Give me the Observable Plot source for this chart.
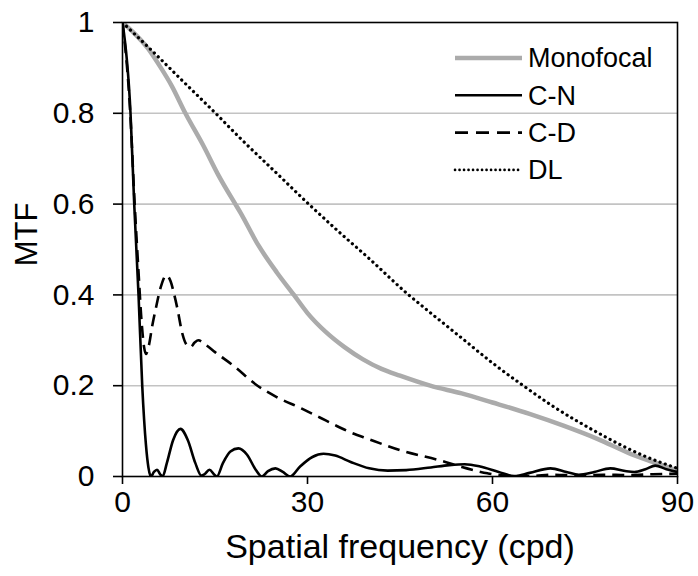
<!DOCTYPE html>
<html>
<head>
<meta charset="utf-8">
<script src="https://cdn.jsdelivr.net/npm/d3@7"></script>
<script src="https://cdn.jsdelivr.net/npm/@observablehq/plot@0.6"></script>
<style>
  body { margin: 0; background: #fff; }
  #chart { width: 698px; height: 576px; }
</style>
</head>
<body>
<div id="chart"></div>
<script>
// ---- Data ----
const monoX = [0, 2, 4, 6, 8, 10.2, 13.1, 15.5, 18.3, 19.1, 22, 25, 27.8, 30, 33, 36, 39, 42, 45, 49.9, 55, 60, 66, 71.5, 77, 82.4, 86, 90];
const monoY = [1, 0.975, 0.945, 0.905, 0.86, 0.8, 0.729, 0.665, 0.6, 0.582, 0.51, 0.45, 0.4, 0.36, 0.318, 0.285, 0.258, 0.237, 0.222, 0.2, 0.183, 0.163, 0.138, 0.112, 0.083, 0.05, 0.032, 0.013];

const cnX = [0, 1.3, 1.9, 2.6, 3.2, 3.8, 4.2, 4.6, 5.1, 5.6, 6.1, 6.5, 7.2, 8.2, 9.4, 10.6, 11.8, 12.8, 13.3, 14.1, 14.9, 15.3, 16.3, 17.5, 18.8, 20.2, 21.6, 22.6, 23.6, 24.8, 26.0, 27.2, 28.8, 30.8, 32.6, 34.5, 37, 40, 43, 46, 50, 53, 55.5, 58, 61, 63.5, 66, 69.4, 72, 74, 76.5, 79.1, 81.5, 83, 84.8, 86.4, 88.2, 90];
const cnY = [1, 0.8, 0.6, 0.4, 0.2, 0.07, 0.02, 0.0, 0.01, 0.015, 0.005, 0.0, 0.03, 0.08, 0.105, 0.08, 0.03, 0.002, 0.005, 0.015, 0.004, 0.0, 0.03, 0.055, 0.062, 0.048, 0.015, 0.0, 0.012, 0.018, 0.01, 0.0, 0.022, 0.043, 0.05, 0.046, 0.032, 0.018, 0.013, 0.014, 0.02, 0.025, 0.027, 0.022, 0.01, 0.001, 0.008, 0.018, 0.01, 0.004, 0.01, 0.018, 0.012, 0.01, 0.016, 0.024, 0.016, 0.01];

const cdX = [0, 1.3, 1.9, 2.6, 3.1, 3.5, 3.8, 4.3, 4.8, 5.4, 6.2, 7.1, 7.8, 8.4, 8.9, 9.7, 10.4, 11, 11.7, 12.3, 13.5, 15, 18, 21.9, 25, 29, 32, 34.2, 36.5, 40, 45, 51.6, 55, 59.2, 62, 66, 70, 74, 78, 82, 86, 90];
const cdY = [1, 0.79, 0.62, 0.45, 0.34, 0.285, 0.27, 0.29, 0.33, 0.37, 0.417, 0.443, 0.43, 0.40, 0.37, 0.315, 0.29, 0.285, 0.295, 0.30, 0.29, 0.274, 0.244, 0.2, 0.175, 0.15, 0.13, 0.115, 0.1, 0.082, 0.058, 0.035, 0.021, 0.007, 0.002, 0.001, 0.004, 0.002, 0.004, 0.003, 0.005, 0.006];

const dlX = [0, 5, 10, 15.1, 19.1, 25, 30.2, 35, 40, 46.4, 49.9, 55, 60, 65, 70, 77, 80, 85, 90];
const dlY = [1, 0.935, 0.868, 0.8, 0.745, 0.668, 0.6, 0.54, 0.48, 0.4, 0.361, 0.305, 0.25, 0.2, 0.153, 0.097, 0.075, 0.043, 0.018];

const seriesNames = ["Monofocal", "C-N", "C-D", "DL"];
const xTicks = [0, 30, 60, 90];
const yTicks = [0, 0.2, 0.4, 0.6, 0.8, 1];
const gridTicks = [0.2, 0.4, 0.6, 0.8];
const xLabel = "Spatial frequency (cpd)";
const yLabel = "MTF";

// ---- Styles ----
const styles = {
  "Monofocal": {stroke: "#ababab", strokeWidth: 4.5, dash: null, cap: "butt", legendDash: null},
  "C-N": {stroke: "#000", strokeWidth: 2.6, dash: null, cap: "butt", legendDash: null},
  "C-D": {stroke: "#000", strokeWidth: 2.6, dash: "12,7", cap: "butt", legendDash: "13,8"},
  "DL": {stroke: "#000", strokeWidth: 3.2, dash: "0.1,5.4", cap: "round", legendDash: "0.1,4.4"}
};

const toRows = (xs, ys, name) => xs.map((x, i) => ({x, y: ys[i], series: name}));
const data = {
  "Monofocal": toRows(monoX, monoY, "Monofocal"),
  "C-N": toRows(cnX, cnY, "C-N"),
  "C-D": toRows(cdX, cdY, "C-D"),
  "DL": toRows(dlX, dlY, "DL")
};

const FONT = "'Liberation Sans', Arial, Helvetica, sans-serif";

function legend(index, scales, values, dimensions) {
  const dims = dimensions || {width: 698, marginRight: 21, marginTop: 22};
  const right = dims.width - dims.marginRight;
  const x1 = right - 222, x2 = right - 155, tx = right - 149;
  const g = d3.create("svg:g");
  seriesNames.forEach((name, i) => {
    const s = styles[name];
    const y = dims.marginTop + 36 + i * 37.3;
    const ln = g.append("line")
      .attr("x1", x1).attr("x2", x2).attr("y1", y).attr("y2", y)
      .attr("stroke", s.stroke).attr("stroke-width", name === "DL" ? 2.6 : s.strokeWidth)
      .attr("stroke-linecap", s.cap);
    if (s.legendDash) ln.attr("stroke-dasharray", s.legendDash);
    g.append("text")
      .attr("x", tx).attr("y", y).attr("dy", "0.35em")
      .attr("text-anchor", "start")
      .attr("font-size", 27).attr("font-family", FONT).attr("fill", "#000")
      .text(name);
  });
  return g.node();
}

const lineMarks = seriesNames.map(name => Plot.line(data[name], {
  x: "x", y: "y",
  stroke: styles[name].stroke,
  strokeWidth: styles[name].strokeWidth,
  strokeDasharray: styles[name].dash,
  strokeLinecap: styles[name].cap,
  curve: "monotone-x",
  clip: true
}));

const chart = Plot.plot({
  width: 698,
  height: 576,
  marginLeft: 122,
  marginRight: 21,
  marginTop: 22,
  marginBottom: 100,
  style: {fontFamily: FONT, fontSize: "30px", color: "#000", background: "#fff"},
  x: {domain: [0, 90]},
  y: {domain: [0, 1]},
  marks: [
    Plot.ruleY(gridTicks, {stroke: "#c3c3c3", strokeWidth: 1.6}),
    ...lineMarks,
    Plot.frame({stroke: "#000", strokeWidth: 1.6}),
    Plot.axisY({ticks: yTicks, tickFormat: d => String(d), tickSize: 9, tickPadding: 19, label: null, fontSize: 30, strokeWidth: 1.6}),
    Plot.axisX({ticks: xTicks, tickFormat: d => String(d), tickSize: 8, tickPadding: 6, label: null, fontSize: 30, strokeWidth: 1.6}),
    Plot.text([xLabel], {text: d => d, frameAnchor: "bottom", textAnchor: "middle", dy: 81, fontSize: 34}),
    Plot.text([yLabel], {text: d => d, frameAnchor: "left", textAnchor: "middle", rotate: -90, dx: -95, dy: -15, fontSize: 31}),
    legend
  ]
});
document.getElementById("chart").appendChild(chart);
</script>
</body>
</html>
